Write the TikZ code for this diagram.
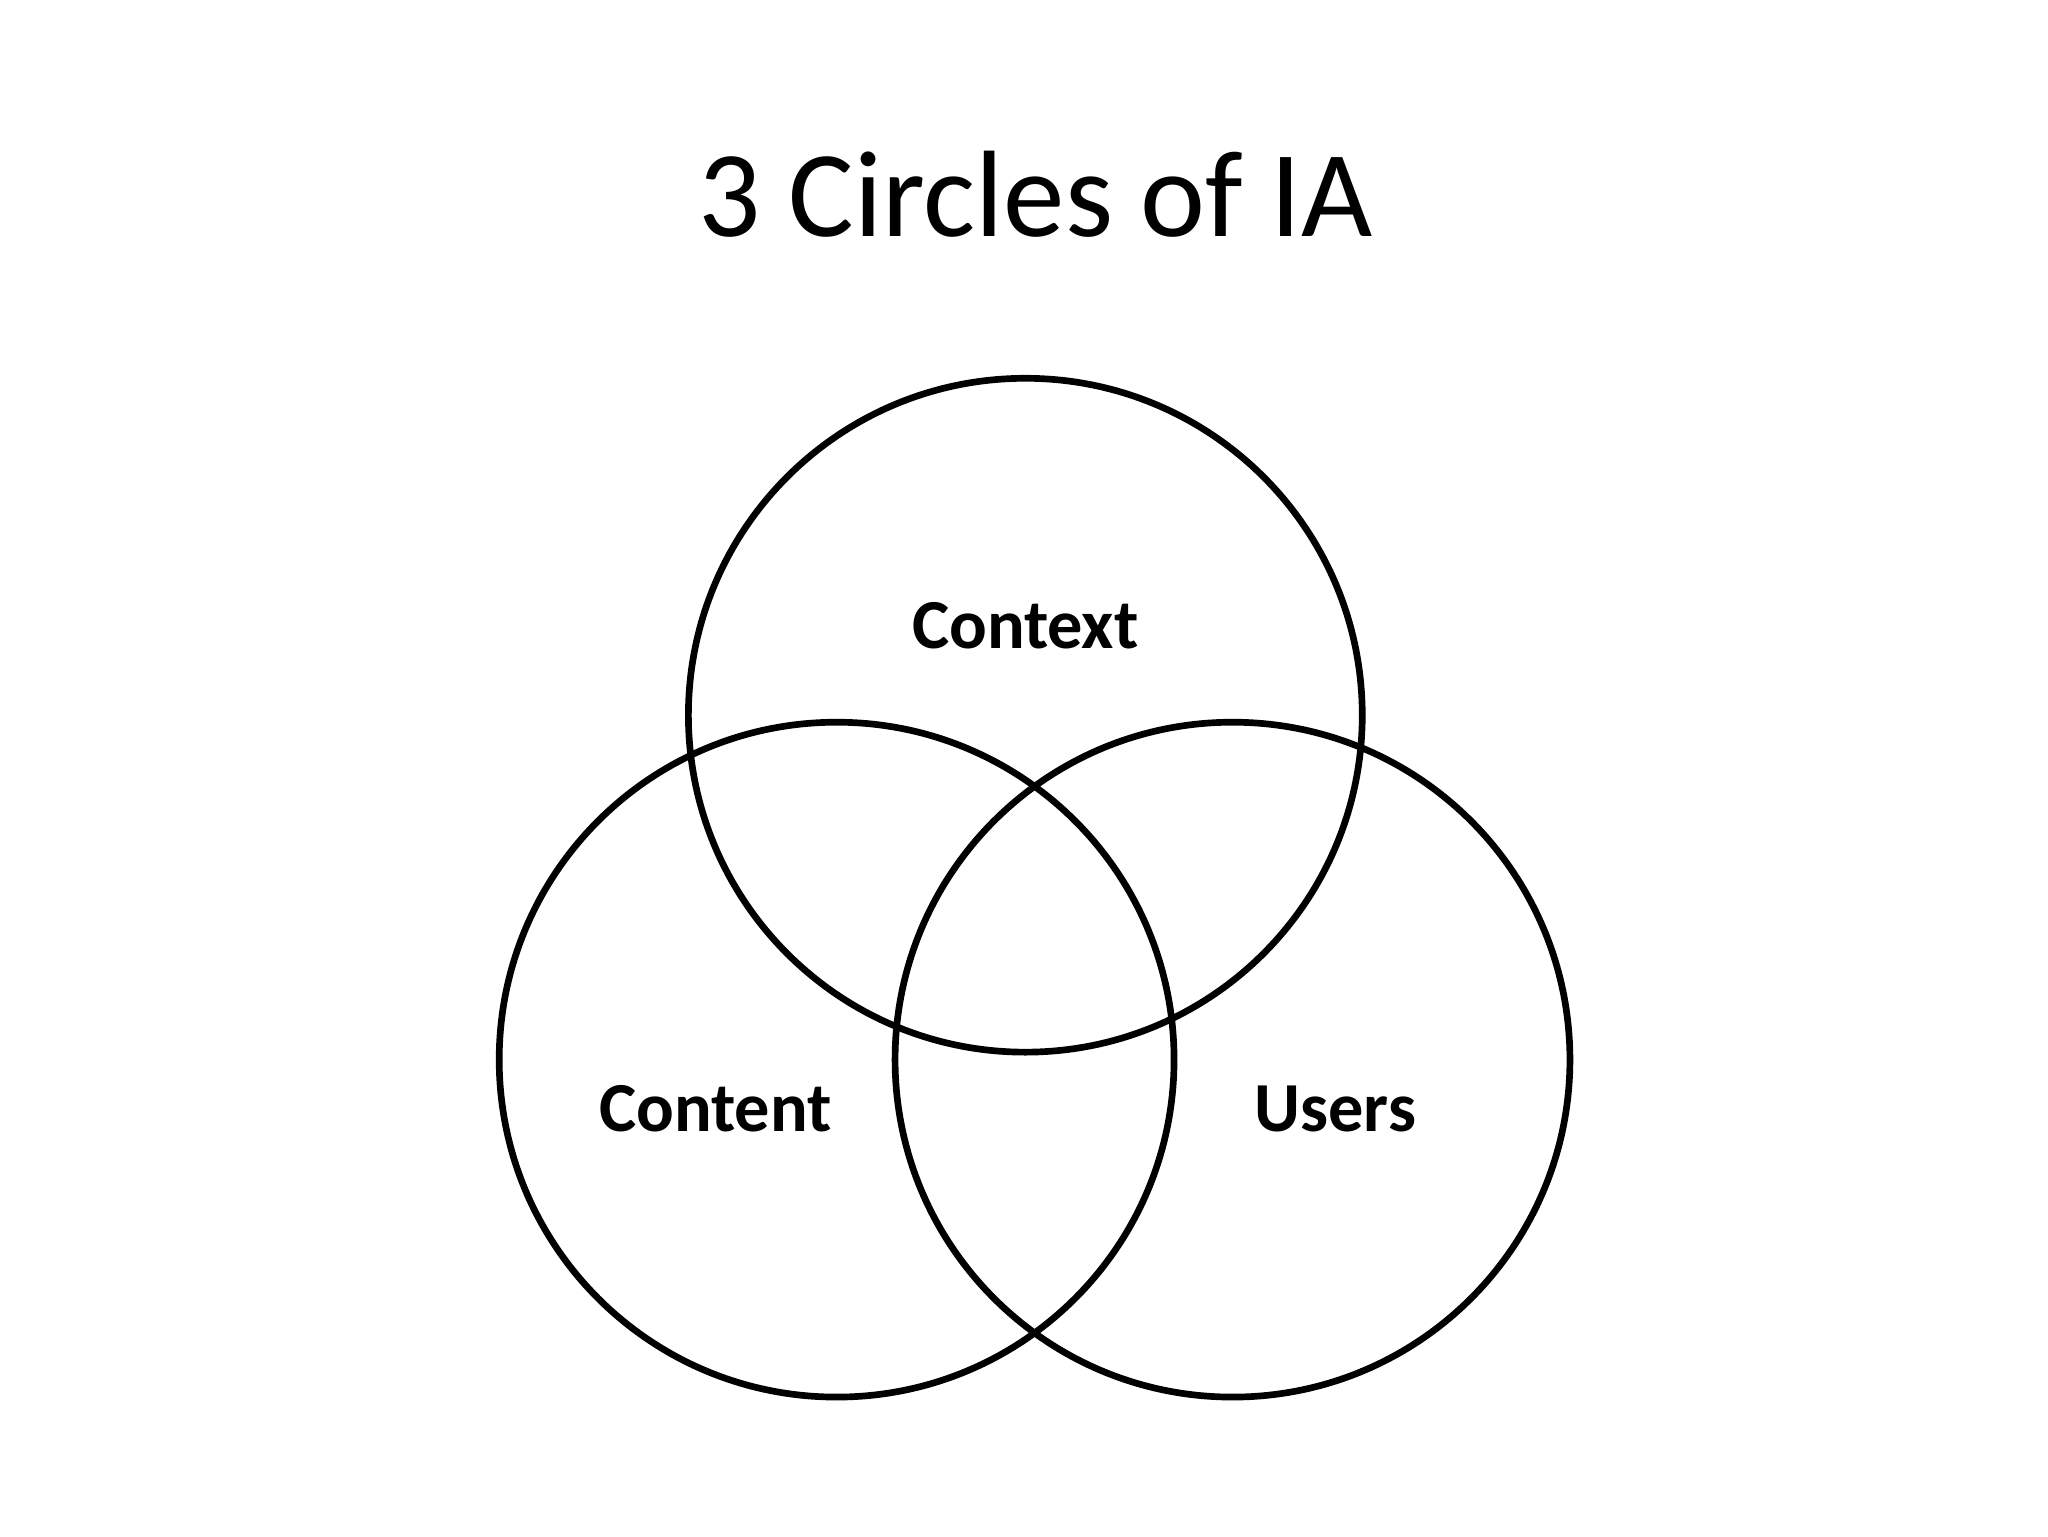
\documentclass[tikz,border=0pt]{standalone}
\usepackage{fontspec}
\setmainfont{Carlito}
\begin{document}
\begin{tikzpicture}[x=0.013196cm,y=-0.013196cm,
  ring/.style={draw=black,line width=1.9pt,circle,minimum size=#1,inner sep=0pt},
  lab/.style={font=\fontsize{20}{24}\selectfont\bfseries}]
\useasboundingbox (0,0) rectangle (1552,1164);
\fill[white] (0,0) rectangle (1552,1164);
\node[font=\fontsize{35}{42}\selectfont] (title) at (785,147) {3 Circles of IA};
\node[ring=6.74cm] (ctx) at (777,542) {};
\node[ring=6.75cm] (cnt) at (634,803) {};
\node[ring=6.75cm] (usr) at (934,803) {};
\node[lab] (lctx) at (777,474) {Context};
\node[lab] (lcnt) at (542,840) {Content};
\node[lab] (lusr) at (1012,840) {Users};
\end{tikzpicture}
\end{document}
